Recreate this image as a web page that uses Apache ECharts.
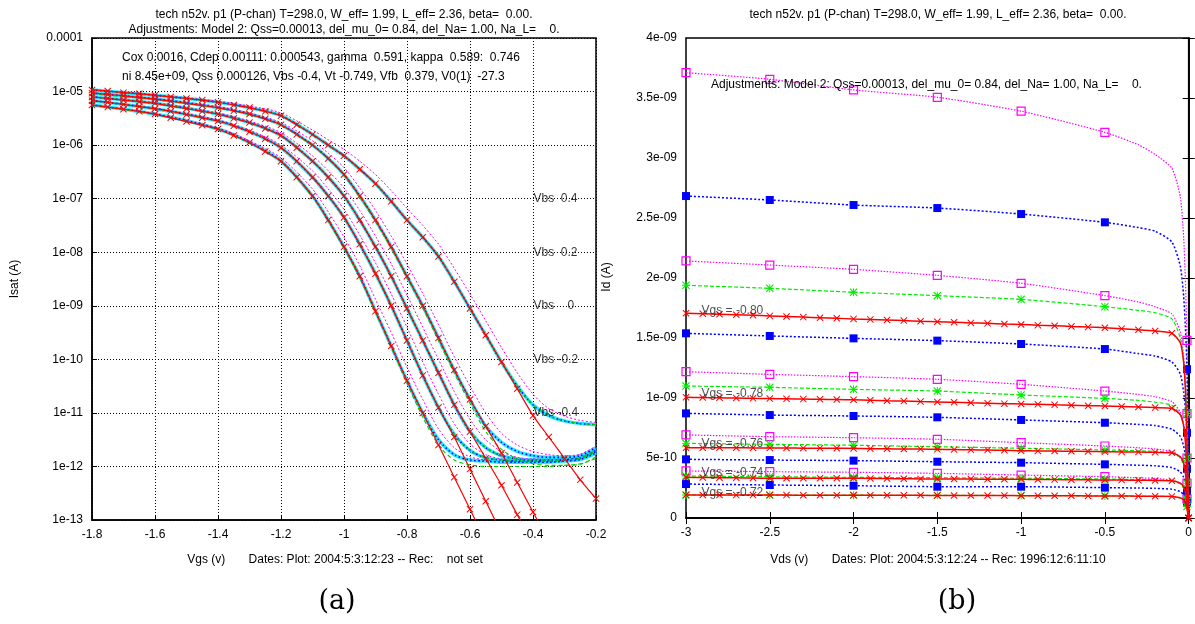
<!DOCTYPE html>
<html><head><meta charset="utf-8">
<script src="https://cdn.jsdelivr.net/npm/echarts/dist/echarts.min.js"></script>
<style>html,body{margin:0;padding:0;background:#fff}#c{width:1195px;height:624px}</style>
</head><body><div id="c"></div><script>
// ---------------- LEFT PANEL (a) : Isat vs Vgs, log10 values ----------------
const leftXTicks = ['-1.8','-1.6','-1.4','-1.2','-1','-0.8','-0.6','-0.4','-0.2'];
const leftYTicks = ['1e-13','1e-12','1e-11','1e-10','1e-09','1e-08','1e-07','1e-06','1e-05','0.0001'];
const modelVgs = [-1.8,-1.6,-1.4,-1.3,-1.2,-1.1,-1.05,-1.0,-0.95,-0.9,-0.85,-0.8,-0.75,-0.7,-0.65,-0.6,-0.55,-0.5,-0.45,-0.4,-0.35,-0.3,-0.25,-0.2];
const bundleA = [-5.25,-5.42,-5.7,-5.95,-6.3,-6.95,-7.4,-7.9,-8.45,-9.1,-9.75,-10.4,-11.0,-11.5,-11.78,-11.88,-11.9,-11.92,-11.92,-11.92,-11.92,-11.9,-11.87,-11.75];
const bundleB = [-5.17,-5.32,-5.55,-5.75,-6.05,-6.6,-6.95,-7.35,-7.85,-8.4,-9.0,-9.65,-10.3,-10.9,-11.4,-11.7,-11.84,-11.88,-11.9,-11.9,-11.9,-11.88,-11.85,-11.72];
const bundleC = [-5.1,-5.22,-5.42,-5.58,-5.82,-6.3,-6.6,-6.95,-7.4,-7.9,-8.45,-9.05,-9.65,-10.25,-10.85,-11.35,-11.65,-11.8,-11.86,-11.88,-11.88,-11.87,-11.84,-11.7];
const bundleD = [-5.03,-5.14,-5.3,-5.42,-5.62,-6.0,-6.25,-6.55,-6.95,-7.4,-7.9,-8.45,-9.0,-9.6,-10.2,-10.75,-11.25,-11.55,-11.72,-11.8,-11.83,-11.83,-11.8,-11.65];
const bundleE = [-4.97,-5.07,-5.2,-5.3,-5.45,-5.8,-6.0,-6.2,-6.45,-6.72,-7.05,-7.4,-7.72,-8.08,-8.55,-9.05,-9.55,-10.05,-10.5,-10.85,-11.05,-11.15,-11.2,-11.22];
const magentaA = [-5.25,-5.42,-5.68,-5.92,-6.24,-6.82,-7.25,-7.72,-8.25,-8.88,-9.5,-10.15,-10.75,-11.3,-11.65,-11.82,-11.88,-11.9,-11.9,-11.9,-11.9,-11.88,-11.85,-11.72];
const magentaB = [-5.17,-5.31,-5.53,-5.72,-6.0,-6.48,-6.82,-7.2,-7.68,-8.2,-8.78,-9.4,-10.05,-10.65,-11.2,-11.58,-11.78,-11.86,-11.88,-11.88,-11.88,-11.86,-11.83,-11.7];
const magentaC = [-5.1,-5.21,-5.4,-5.55,-5.77,-6.2,-6.48,-6.8,-7.22,-7.7,-8.22,-8.8,-9.4,-10.0,-10.6,-11.12,-11.5,-11.72,-11.83,-11.86,-11.86,-11.85,-11.82,-11.68];
const magentaD = [-5.03,-5.13,-5.28,-5.4,-5.58,-5.92,-6.15,-6.42,-6.8,-7.22,-7.7,-8.22,-8.77,-9.35,-9.95,-10.5,-11.0,-11.38,-11.6,-11.72,-11.78,-11.8,-11.77,-11.62];
const magentaE = [-4.97,-5.06,-5.18,-5.27,-5.4,-5.72,-5.9,-6.08,-6.3,-6.55,-6.85,-7.18,-7.5,-7.85,-8.3,-8.78,-9.28,-9.78,-10.25,-10.65,-10.92,-11.06,-11.14,-11.18];
const greenFloorA = [-5.26,-5.43,-5.71,-5.96,-6.31,-6.97,-7.42,-7.93,-8.48,-9.13,-9.78,-10.45,-11.08,-11.6,-11.88,-11.97,-12.0,-12.0,-12.0,-12.0,-12.0,-11.98,-11.95,-11.85];
const greenFloorD = [-5.04,-5.15,-5.31,-5.43,-5.63,-6.01,-6.26,-6.57,-6.97,-7.43,-7.93,-8.48,-9.04,-9.65,-10.26,-10.82,-11.35,-11.68,-11.86,-11.95,-11.98,-11.98,-11.96,-11.82];
const redVgs = [-1.8,-1.75,-1.7,-1.65,-1.6,-1.55,-1.5,-1.45,-1.4,-1.35,-1.3,-1.25,-1.2,-1.15,-1.1,-1.05,-1.0,-0.95,-0.9,-0.85,-0.8,-0.75,-0.7,-0.65,-0.6,-0.55,-0.5,-0.45,-0.4,-0.35,-0.3,-0.25,-0.2];
const redA = [-5.25,-5.29,-5.33,-5.37,-5.42,-5.49,-5.56,-5.63,-5.7,-5.82,-5.95,-6.12,-6.3,-6.6,-6.95,-7.4,-7.9,-8.45,-9.1,-9.75,-10.4,-11.0,-11.6,-12.2,-12.8,-13.4];
const redB = [-5.17,-5.2,-5.24,-5.28,-5.32,-5.37,-5.43,-5.49,-5.55,-5.64,-5.75,-5.88,-6.05,-6.3,-6.6,-6.95,-7.35,-7.85,-8.4,-9.0,-9.65,-10.3,-10.9,-11.45,-12.05,-12.65,-13.25];
const redC = [-5.1,-5.13,-5.16,-5.19,-5.22,-5.27,-5.32,-5.37,-5.42,-5.5,-5.58,-5.69,-5.82,-6.05,-6.3,-6.6,-6.95,-7.4,-7.9,-8.45,-9.05,-9.65,-10.25,-10.85,-11.35,-11.85,-12.35,-12.9,-13.45];
const redD = [-5.03,-5.05,-5.08,-5.11,-5.14,-5.18,-5.22,-5.26,-5.3,-5.36,-5.42,-5.51,-5.62,-5.8,-6.0,-6.25,-6.55,-6.95,-7.4,-7.9,-8.45,-9.0,-9.6,-10.2,-10.75,-11.25,-11.75,-12.3,-12.85,-13.4];
const redE = [-4.97,-4.99,-5.02,-5.04,-5.07,-5.1,-5.13,-5.16,-5.2,-5.25,-5.3,-5.37,-5.45,-5.62,-5.8,-6.0,-6.2,-6.45,-6.72,-7.05,-7.4,-7.72,-8.08,-8.55,-9.05,-9.55,-10.05,-10.55,-11.05,-11.45,-11.85,-12.25,-12.6];
const vbsLabels = ['Vbs  0.4','Vbs  0.2','Vbs    0','Vbs -0.2','Vbs -0.4'];
const vbsLabelX = [-0.4,-0.4,-0.4,-0.4,-0.4];
const vbsLabelY = [-7,-8,-9,-10,-11];

// ---------------- RIGHT PANEL (b) : Id vs Vds, values in 1e-9 A ----------------
const rightXTicks = ['-3','-2.5','-2','-1.5','-1','-0.5','0'];
const rightYTicks = ['0','5e-10','1e-09','1.5e-09','2e-09','2.5e-09','3e-09','3.5e-09','4e-09'];
const redVds = [-3,-2.9,-2.8,-2.7,-2.6,-2.5,-2.4,-2.3,-2.2,-2.1,-2,-1.9,-1.8,-1.7,-1.6,-1.5,-1.4,-1.3,-1.2,-1.1,-1,-0.9,-0.8,-0.7,-0.6,-0.5,-0.4,-0.3,-0.2,-0.1,-0.05,-0.03,-0.02,-0.01,0];
const idRed1 = [1.706,1.702,1.698,1.694,1.689,1.684,1.679,1.674,1.669,1.664,1.659,1.655,1.650,1.645,1.640,1.636,1.631,1.626,1.622,1.617,1.613,1.607,1.602,1.596,1.591,1.586,1.578,1.569,1.558,1.540,1.46,1.30,1.08,0.62,0];
const idRed2 = [1.006,1.004,1.002,1.000,0.997,0.995,0.993,0.991,0.989,0.987,0.985,0.981,0.977,0.974,0.970,0.967,0.964,0.960,0.957,0.953,0.950,0.947,0.943,0.940,0.936,0.933,0.929,0.925,0.920,0.914,0.86,0.77,0.64,0.37,0];
const idRed3 = [0.586,0.586,0.585,0.585,0.584,0.584,0.583,0.582,0.582,0.581,0.580,0.578,0.577,0.575,0.574,0.572,0.570,0.568,0.566,0.564,0.561,0.559,0.558,0.556,0.555,0.553,0.551,0.549,0.547,0.544,0.51,0.46,0.38,0.22,0];
const idRed4 = [0.339,0.338,0.336,0.335,0.333,0.331,0.331,0.331,0.331,0.331,0.331,0.330,0.329,0.327,0.326,0.325,0.325,0.324,0.323,0.323,0.322,0.321,0.320,0.319,0.318,0.317,0.316,0.315,0.313,0.311,0.29,0.26,0.22,0.13,0];
const idRed5 = [0.192,0.192,0.192,0.191,0.191,0.191,0.191,0.190,0.190,0.190,0.190,0.190,0.189,0.189,0.189,0.188,0.188,0.188,0.187,0.187,0.186,0.186,0.185,0.185,0.184,0.183,0.183,0.182,0.181,0.180,0.168,0.15,0.125,0.075,0];
const modelVds = [-3,-2.5,-2,-1.5,-1,-0.5,-0.3,-0.2,-0.1,-0.05,-0.03,-0.02,-0.01,0];
const idMag1 = [3.711,3.656,3.567,3.506,3.39,3.214,3.11,3.03,2.914,2.678,2.34,2.0,1.48,0];
const idMag2 = [2.142,2.108,2.072,2.022,1.956,1.853,1.80,1.76,1.70,1.55,1.35,1.15,0.87,0];
const idMag3 = [1.219,1.197,1.178,1.156,1.114,1.058,1.03,1.01,0.97,0.88,0.78,0.68,0.50,0];
const idMag4 = [0.692,0.678,0.669,0.656,0.628,0.600,0.585,0.575,0.555,0.51,0.45,0.39,0.29,0];
const idMag5 = [0.392,0.386,0.381,0.372,0.358,0.344,0.335,0.33,0.315,0.29,0.255,0.22,0.16,0];
const idBlue1 = [2.683,2.65,2.608,2.583,2.533,2.464,2.42,2.39,2.30,2.10,1.85,1.60,1.24,0];
const idBlue2 = [1.539,1.517,1.497,1.478,1.45,1.408,1.37,1.35,1.30,1.20,1.05,0.92,0.71,0];
const idBlue3 = [0.872,0.858,0.85,0.839,0.817,0.794,0.78,0.77,0.74,0.68,0.60,0.52,0.41,0];
const idBlue4 = [0.489,0.483,0.478,0.469,0.461,0.447,0.44,0.435,0.42,0.385,0.34,0.30,0.228,0];
const idBlue5 = [0.283,0.275,0.269,0.261,0.261,0.253,0.25,0.247,0.24,0.22,0.195,0.17,0.136,0];
const idGreen1 = [1.939,1.914,1.881,1.853,1.822,1.761,1.73,1.71,1.66,1.50,1.30,1.10,0.87,0];
const idGreen2 = [1.100,1.089,1.072,1.058,1.025,0.997,0.98,0.965,0.94,0.86,0.76,0.66,0.50,0];
const idGreen3 = [0.622,0.614,0.606,0.594,0.581,0.567,0.56,0.555,0.545,0.50,0.44,0.38,0.29,0];
const idGreen4 = [0.350,0.344,0.339,0.336,0.331,0.325,0.32,0.318,0.31,0.285,0.25,0.215,0.16,0];
const idGreen5 = [0.192,0.191,0.19,0.189,0.187,0.184,0.182,0.181,0.18,0.165,0.145,0.125,0.095,0];
const vgsLabels = ['Vgs = -0.80','Vgs = -0.78','Vgs = -0.76','Vgs = -0.74','Vgs = -0.72'];
const vgsLabelX = [-2.91,-2.91,-2.91,-2.91,-2.91];
const vgsLabelY = [1.73,1.04,0.617,0.375,0.208];

// ---------------- font selection (narrow Helvetica-like if installed) ----------------
function hasFont(name){
  const c = document.createElement('canvas').getContext('2d');
  const s = 'Adjustments: Model 2: Qss=0.00013, del_mu_0';
  c.font = '20px monospace'; const a = c.measureText(s).width;
  c.font = '20px "' + name + '", monospace'; const b = c.measureText(s).width;
  return Math.abs(a - b) > 1;
}
const NARROW = hasFont('Liberation Sans Narrow');
const FONT = NARROW ? '"Liberation Sans Narrow", "Liberation Sans", Arial, sans-serif' : '"Liberation Sans", Arial, sans-serif';
const FS = NARROW ? 14.5 : 12;

// ---------------- build ----------------
const X_PATH = 'path://M0,1L1,0L5,4L9,0L10,1L6,5L10,9L9,10L5,6L1,10L0,9L4,5Z';
const STAR_PATH = 'path://M0,1L1,0L5,4L9,0L10,1L6,5L10,9L9,10L5,6L1,10L0,9L4,5Z M4.4,0H5.6V4.4H10V5.6H5.6V10H4.4V5.6H0V4.4H4.4Z';
const zip = (xs, ys) => ys.map((y, i) => [xs[i], y]);
const series = [];

const bundles = [bundleA, bundleB, bundleC, bundleD, bundleE];
const mags = [magentaA, magentaB, magentaC, magentaD, magentaE];
const reds = [redA, redB, redC, redD, redE];
bundles.forEach((b, g) => {
  const d = zip(modelVgs, b);
  series.push({type:'line', xAxisIndex:0, yAxisIndex:0, data:d, smooth:0.3, showSymbol:false, silent:true,
    lineStyle:{color:'#00e5ff', width:3.5, opacity:0.85}, z:2});
  series.push({type:'line', xAxisIndex:0, yAxisIndex:0, data:zip(modelVgs, mags[g]), smooth:0.3, showSymbol:false, silent:true,
    lineStyle:{color:'#ff00ff', width:1, type:[2,2]}, z:2});
  series.push({type:'line', xAxisIndex:0, yAxisIndex:0, data:d, smooth:0.3, showSymbol:false, silent:true,
    lineStyle:{color:'#0000ff', width:1.6, type:[1.5,2.5]}, z:3});
});
[greenFloorA, greenFloorD, bundleB, bundleC, bundleE].forEach(gv => {
  series.push({type:'line', xAxisIndex:0, yAxisIndex:0, data:zip(modelVgs, gv), smooth:0.3, showSymbol:false, silent:true,
    lineStyle:{color:'#00cc00', width:1.1, type:[4,3]}, z:4});
});
reds.forEach(r => {
  series.push({type:'line', xAxisIndex:0, yAxisIndex:0, data:zip(redVgs, r), smooth:0.2, showAllSymbol:true,
    symbol:X_PATH, symbolSize:7, silent:true,
    itemStyle:{color:'#ff0000'}, lineStyle:{color:'#ff0000', width:1.2}, z:6});
});
series.push({type:'scatter', xAxisIndex:0, yAxisIndex:0, silent:true, symbolSize:1, itemStyle:{color:'rgba(0,0,0,0)'},
  data: vbsLabels.map((t, i) => [vbsLabelX[i], vbsLabelY[i], t]),
  label:{show:true, position:'right', distance:0, formatter:p => p.data[2], color:'#000', fontSize:FS, fontFamily:FONT}, z:10});

function redItems(vals){
  return redVds.map((x,i)=>{
    const marked = (x <= -0.1 + 1e-9) || x === 0;
    return marked ? {value:[x, vals[i]]} : {value:[x, vals[i]], symbol:'none'};
  });
}
function modelItems(vals){
  return modelVds.map((x,i)=>{
    const marked = (x <= -0.5 + 1e-9) || x === -0.01;
    return marked ? {value:[x, vals[i]]} : {value:[x, vals[i]], symbol:'none'};
  });
}
[idMag1,idMag2,idMag3,idMag4,idMag5].forEach(v => series.push({type:'line', xAxisIndex:2, yAxisIndex:2, data:modelItems(v),
  showAllSymbol:true, symbol:'rect', symbolSize:8, silent:true, smooth:0.2,
  itemStyle:{color:'rgba(255,255,255,0)', borderColor:'#ff00ff', borderWidth:1.2},
  lineStyle:{color:'#ff00ff', width:1.2, type:[1.5,1.5]}, z:3}));
[idBlue1,idBlue2,idBlue3,idBlue4,idBlue5].forEach(v => series.push({type:'line', xAxisIndex:2, yAxisIndex:2, data:modelItems(v),
  showAllSymbol:true, symbol:'rect', symbolSize:8, silent:true, smooth:0.2,
  itemStyle:{color:'#0000ff'}, lineStyle:{color:'#0000ff', width:1.5, type:[2,2]}, z:4}));
[idGreen1,idGreen2,idGreen3,idGreen4,idGreen5].forEach(v => series.push({type:'line', xAxisIndex:2, yAxisIndex:2, data:modelItems(v),
  showAllSymbol:true, symbol:STAR_PATH, symbolSize:8, silent:true, smooth:0.2,
  itemStyle:{color:'#00ee00'}, lineStyle:{color:'#00ee00', width:1.2, type:[4,2]}, z:5}));
[idRed1,idRed2,idRed3,idRed4,idRed5].forEach(v => series.push({type:'line', xAxisIndex:2, yAxisIndex:2, data:redItems(v),
  showAllSymbol:true, symbol:X_PATH, symbolSize:7, silent:true, smooth:0.2,
  itemStyle:{color:'#ff0000'}, lineStyle:{color:'#ff0000', width:1.5}, z:6}));
series.push({type:'scatter', xAxisIndex:2, yAxisIndex:2, silent:true, symbolSize:1, itemStyle:{color:'rgba(0,0,0,0)'},
  data: vgsLabels.map((t, i) => [vgsLabelX[i], vgsLabelY[i], t]),
  label:{show:true, position:'right', distance:0, formatter:p => p.data[2], color:'#222', fontSize:FS, fontFamily:FONT}, z:10});

const lbl = {color:'#000', fontSize:FS, fontFamily:FONT};
const txt = (x, y, text, align, extra) => Object.assign({type:'text', x:x, y:y, z:20,
  style:{text:text, align:align, verticalAlign:'middle', font:FS+'px '+FONT, fill:'#000'}}, extra || {});
const option = {
  animation:false,
  backgroundColor:'#fff',
  grid:[
    {left:92, top:38, width:504, height:482, show:true, borderColor:'#000', borderWidth:1.5, backgroundColor:'rgba(0,0,0,0)'},
    {left:686, top:38, width:504, height:480, show:true, borderColor:'#000', borderWidth:1.5, backgroundColor:'rgba(0,0,0,0)'}
  ],
  xAxis:[
    {type:'value', gridIndex:0, min:-1.8, max:-0.2, interval:0.2, position:'bottom',
      axisLine:{lineStyle:{color:'#000', width:1.5}}, axisTick:{inside:true, length:5, lineStyle:{color:'#000'}},
      splitLine:{show:true, lineStyle:{color:'#000', width:1, type:[1,2]}},
      axisLabel:Object.assign({margin:9, formatter:v => leftXTicks[Math.round((v + 1.8) / 0.2)]}, lbl)},
    {type:'value', gridIndex:0, min:-1.8, max:-0.2, interval:0.2, position:'top', axisLine:{show:false}, axisTick:{show:false}, axisLabel:{show:false}, splitLine:{show:false}},
    {type:'value', gridIndex:1, min:-3, max:0, interval:0.5, position:'bottom',
      axisLine:{lineStyle:{color:'#000', width:1.5}}, axisTick:{inside:true, length:6, lineStyle:{color:'#000'}},
      splitLine:{show:false},
      axisLabel:Object.assign({margin:9, formatter:v => rightXTicks[Math.round((v + 3) / 0.5)]}, lbl)},
    {type:'value', gridIndex:1, min:-3, max:0, interval:0.5, position:'top',
      axisLine:{lineStyle:{color:'#000', width:1.5}}, axisTick:{inside:true, length:6, lineStyle:{color:'#000'}},
      axisLabel:{show:false}, splitLine:{show:false}}
  ],
  yAxis:[
    {type:'value', gridIndex:0, min:-13, max:-4, interval:1,
      axisLine:{lineStyle:{color:'#000', width:1.5}}, axisTick:{inside:true, length:5, lineStyle:{color:'#000'}},
      splitLine:{show:true, lineStyle:{color:'#000', width:1, type:[1,2]}},
      axisLabel:Object.assign({margin:9, formatter:v => leftYTicks[Math.round(v + 13)]}, lbl)},
    {type:'value', gridIndex:0, min:-13, max:-4, interval:1, position:'right', axisLine:{show:false}, axisTick:{show:false}, axisLabel:{show:false}, splitLine:{show:false}},
    {type:'value', gridIndex:1, min:0, max:4, interval:0.5,
      axisLine:{lineStyle:{color:'#000', width:1.5}}, axisTick:{inside:true, length:6, lineStyle:{color:'#000'}},
      splitLine:{show:false},
      axisLabel:Object.assign({margin:9, formatter:v => rightYTicks[Math.round(v / 0.5)]}, lbl)},
    {type:'value', gridIndex:1, min:0, max:4, interval:0.5, position:'right',
      axisLine:{lineStyle:{color:'#000', width:1.5}}, axisTick:{inside:true, length:6, lineStyle:{color:'#000'}},
      axisLabel:{show:false}, splitLine:{show:false}}
  ],
  graphic:[
    txt(344, 15, 'tech n52v. p1 (P-chan) T=298.0, W_eff= 1.99, L_eff= 2.36, beta=  0.00.', 'center'),
    txt(344, 30, 'Adjustments: Model 2: Qss=0.00013, del_mu_0= 0.84, del_Na= 1.00, Na_L=    0.', 'center'),
    txt(938, 15, 'tech n52v. p1 (P-chan) T=298.0, W_eff= 1.99, L_eff= 2.36, beta=  0.00.', 'center'),
    txt(122, 58, 'Cox 0.0016, Cdep 0.00111: 0.000543, gamma  0.591, kappa  0.589:  0.746', 'left'),
    txt(122, 77, 'ni 8.45e+09, Qss 0.000126, Vbs -0.4, Vt -0.749, Vfb  0.379, V0(1)  -27.3', 'left'),
    txt(711, 85, 'Adjustments: Model 2: Qss=0.00013, del_mu_0= 0.84, del_Na= 1.00, Na_L=    0.', 'left'),
    txt(335, 560, 'Vgs (v)       Dates: Plot: 2004:5:3:12:23 -- Rec:    not set', 'center'),
    txt(938, 560, 'Vds (v)       Dates: Plot: 2004:5:3:12:24 -- Rec: 1996:12:6:11:10', 'center'),
    txt(15, 279, 'Isat (A)', 'center', {rotation:Math.PI/2}),
    txt(607, 277, 'Id (A)', 'center', {rotation:Math.PI/2}),
    {type:'text', x:337, y:602, style:{text:'(a)', align:'center', verticalAlign:'middle', font:'27px "DejaVu Serif", "Liberation Serif", serif', fill:'#000'}},
    {type:'text', x:957, y:602, style:{text:'(b)', align:'center', verticalAlign:'middle', font:'27px "DejaVu Serif", "Liberation Serif", serif', fill:'#000'}}
  ],
  series: series
};
const chart = echarts.init(document.getElementById('c'), null, {renderer:'canvas'});
chart.setOption(option);
</script></body></html>
